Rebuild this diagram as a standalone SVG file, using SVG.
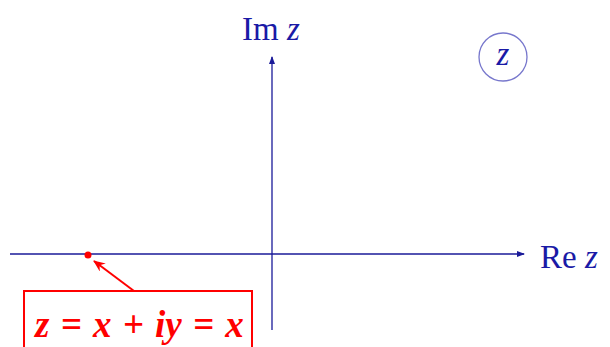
<svg xmlns="http://www.w3.org/2000/svg" width="610" height="347" viewBox="0 0 610 347">
<style>
.ax{stroke:#1a1a99;stroke-width:1.3;fill:none}
.lbl{font-family:"Liberation Serif",serif;fill:#1a1aa6;font-size:33px}
.red{stroke:#ff0000;fill:none}
</style>
<defs>
<marker id="ah" markerWidth="8" markerHeight="8" refX="7" refY="4" orient="auto" markerUnits="userSpaceOnUse">
<path d="M0,1 L8,4 L0,7 Z" fill="#1a1a99"/>
</marker>
<marker id="rh" markerWidth="12" markerHeight="10" refX="11" refY="5" orient="auto" markerUnits="userSpaceOnUse">
<path d="M0,0 L12,5 L0,10 L4,5 Z" fill="#ff0000"/>
</marker>
</defs>
<rect width="610" height="347" fill="#ffffff"/>
<g id="connectors">
<line class="ax" x1="10" y1="254" x2="524" y2="254" marker-end="url(#ah)"/>
<line class="ax" x1="272" y1="330" x2="272" y2="57" marker-end="url(#ah)"/>
<line class="red" stroke-width="2" x1="134" y1="291" x2="94" y2="261" marker-end="url(#rh)"/>
</g>
<g id="im-label"><text class="lbl" x="242" y="40">Im <tspan font-style="italic">z</tspan></text></g>
<g id="re-label"><text class="lbl" x="540" y="268">Re <tspan font-style="italic">z</tspan></text></g>
<g id="z-circle">
<circle cx="503" cy="57" r="24" fill="none" stroke="#7777cc" stroke-width="1.3"/>
<text class="lbl" x="503" y="65" text-anchor="middle" font-style="italic" font-size="28">z</text>
</g>
<g id="point"><circle cx="88" cy="255" r="3.5" fill="#ff0000"/></g>
<g id="formula">
<rect x="24" y="291" width="228" height="70" class="red" stroke-width="2"/>
<text x="35" y="337" font-family="Liberation Serif,serif" font-size="37" font-weight="bold" font-style="italic" fill="#ff0000" word-spacing="2">z = x + iy = x</text>
</g>
</svg>
